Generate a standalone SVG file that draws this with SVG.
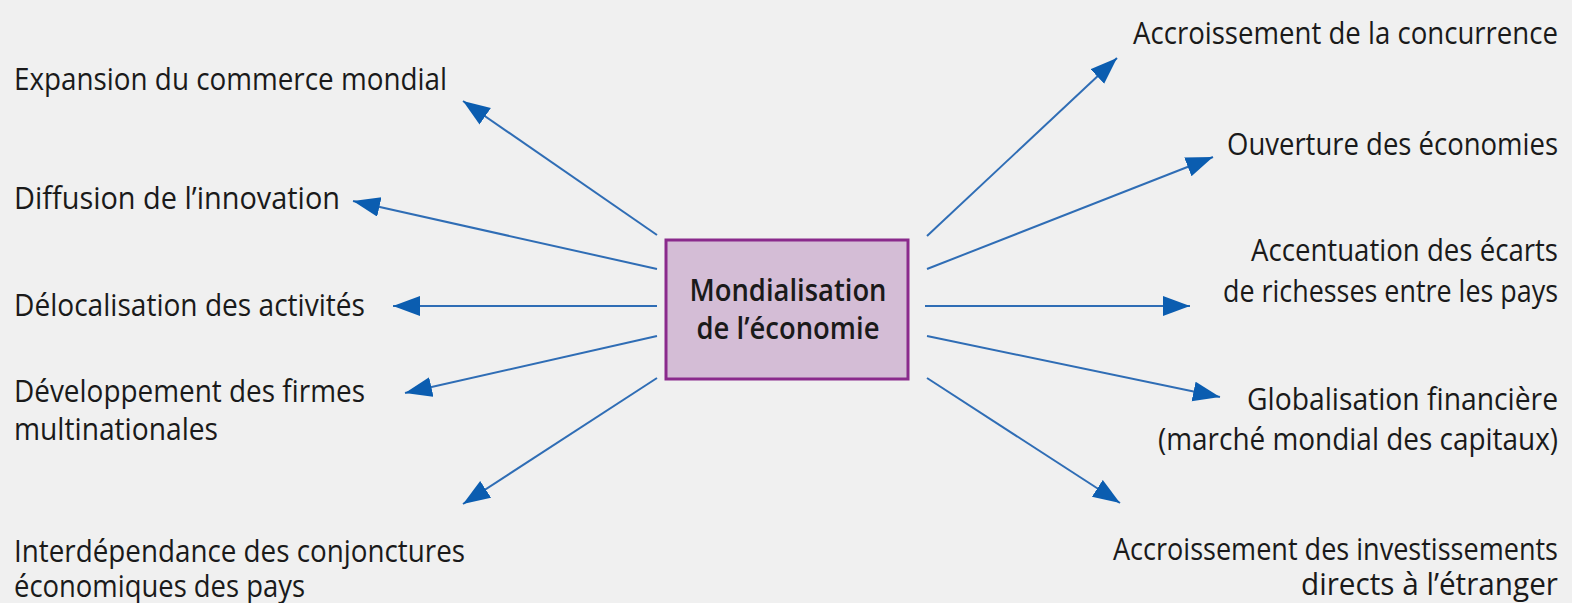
<svg xmlns="http://www.w3.org/2000/svg" width="1572" height="603" viewBox="0 0 1572 603">
<defs>
<style>
.t{font-family:"Open Sans","Noto Sans","Liberation Sans",sans-serif;font-size:31px;fill:#1a1a1a}
.c{text-anchor:middle;font-weight:600}
.ln{stroke:#2F6DB5;stroke-width:2;fill:none;marker-end:url(#ah)}
</style>
<marker id="ah" markerUnits="userSpaceOnUse" markerWidth="28" markerHeight="22" refX="27" refY="10" orient="auto">
<path d="M0,0 L27,10 L0,20 Z" fill="#0B5DB0"/>
</marker>
</defs>
<rect width="1572" height="603" fill="#F0F0F0"/>
<g id="connectors">
<line class="ln" x1="657" y1="235" x2="463" y2="101"/>
<line class="ln" x1="657" y1="269" x2="353" y2="201"/>
<line class="ln" x1="657" y1="306" x2="393" y2="306"/>
<line class="ln" x1="657" y1="336" x2="405" y2="393"/>
<line class="ln" x1="657" y1="378" x2="463" y2="504"/>
<line class="ln" x1="927" y1="236" x2="1117" y2="58"/>
<line class="ln" x1="927" y1="269" x2="1213" y2="157"/>
<line class="ln" x1="925" y1="306" x2="1190" y2="306"/>
<line class="ln" x1="927" y1="336" x2="1220" y2="397"/>
<line class="ln" x1="927" y1="378" x2="1120" y2="503"/>
</g>
<g id="center">
<rect x="666" y="240" width="242" height="139" fill="#D4BDD6" stroke="#8A2A8C" stroke-width="3"/>
<text class="t c" x="788" y="301" textLength="197" lengthAdjust="spacingAndGlyphs">Mondialisation</text>
<text class="t c" x="788" y="339" textLength="183" lengthAdjust="spacingAndGlyphs">de l’économie</text>
</g>
<g id="n-expansion"><text class="t" x="14" y="90" textLength="433" lengthAdjust="spacingAndGlyphs">Expansion du commerce mondial</text></g>
<g id="n-diffusion"><text class="t" x="14" y="209" textLength="326" lengthAdjust="spacingAndGlyphs">Diffusion de l’innovation</text></g>
<g id="n-delocalisation"><text class="t" x="14" y="316" textLength="351" lengthAdjust="spacingAndGlyphs">Délocalisation des activités</text></g>
<g id="n-developpement">
<text class="t" x="14" y="402" textLength="351" lengthAdjust="spacingAndGlyphs">Développement des firmes</text>
<text class="t" x="14" y="440" textLength="204" lengthAdjust="spacingAndGlyphs">multinationales</text>
</g>
<g id="n-interdependance">
<text class="t" x="14" y="562" textLength="451" lengthAdjust="spacingAndGlyphs">Interdépendance des conjonctures</text>
<text class="t" x="14" y="597" textLength="291" lengthAdjust="spacingAndGlyphs">économiques des pays</text>
</g>
<g id="n-concurrence"><text class="t" x="1133" y="44" textLength="425" lengthAdjust="spacingAndGlyphs">Accroissement de la concurrence</text></g>
<g id="n-ouverture"><text class="t" x="1227" y="155" textLength="331" lengthAdjust="spacingAndGlyphs">Ouverture des économies</text></g>
<g id="n-ecarts">
<text class="t" x="1251" y="261" textLength="307" lengthAdjust="spacingAndGlyphs">Accentuation des écarts</text>
<text class="t" x="1223" y="302" textLength="335" lengthAdjust="spacingAndGlyphs">de richesses entre les pays</text>
</g>
<g id="n-globalisation">
<text class="t" x="1247" y="410" textLength="311" lengthAdjust="spacingAndGlyphs">Globalisation financière</text>
<text class="t" x="1158" y="450" textLength="400" lengthAdjust="spacingAndGlyphs">(marché mondial des capitaux)</text>
</g>
<g id="n-investissements">
<text class="t" x="1113" y="560" textLength="445" lengthAdjust="spacingAndGlyphs">Accroissement des investissements</text>
<text class="t" x="1301" y="595" textLength="257" lengthAdjust="spacingAndGlyphs">directs à l’étranger</text>
</g>
</svg>
